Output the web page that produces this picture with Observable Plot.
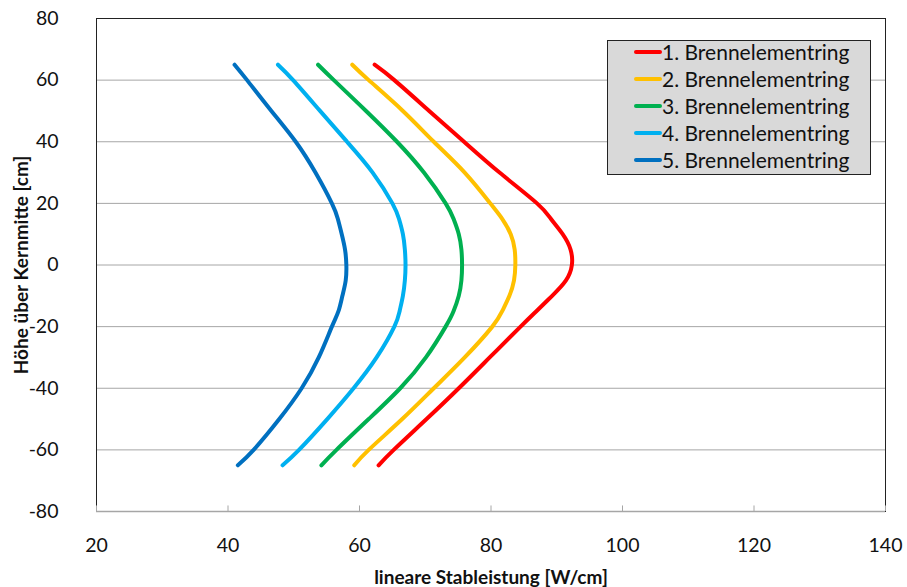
<!DOCTYPE html>
<html>
<head>
<meta charset="utf-8">
<script src="https://cdn.jsdelivr.net/npm/d3@7"></script>
<script src="https://cdn.jsdelivr.net/npm/@observablehq/plot@0.6"></script>
<style>
  html, body { margin: 0; padding: 0; background: #fff; }
  #chart { position: relative; width: 907px; height: 587px; font-family: Lato, "Open Sans", sans-serif; }
  #legend {
    position: absolute; left: 607px; top: 40px; width: 264px; height: 135px;
    background: #d9d9d9; border: 1px solid #222; box-sizing: border-box;
    padding: 0 0 0 25px; font-size: 21px; color: #111;
  }
  #legend .rows { position: relative; top: -3px; }
  #legend .row { height: 27px; display: flex; align-items: center; white-space: nowrap; }
  #legend svg { margin-right: 0; }
</style>
</head>
<body>
<div id="chart"></div>
<script>
// Height above core mid-plane [cm], bottom to top
const heights = [-65, -60, -50, -40, -30, -20, -15, -10, -5, 0, 5, 10, 15, 20, 30, 40, 50, 60, 65];

// Linear rod power [W/cm] per fuel element ring, at the heights above
const ring1 = [62.9, 65.2, 70.2, 75.1, 79.8, 84.5, 86.9, 89.3, 91.4, 92.3, 92.1, 90.9, 89.1, 87.0, 81.3, 75.9, 70.6, 65.3, 62.3];
const ring2 = [59.2, 61.4, 66.5, 71.3, 76.0, 80.2, 81.7, 82.8, 83.5, 83.7, 83.6, 83.0, 81.7, 79.9, 76.0, 71.3, 66.6, 61.4, 58.9];
const ring3 = [54.2, 56.5, 61.4, 66.2, 70.1, 73.1, 74.3, 75.1, 75.5, 75.6, 75.5, 75.1, 74.3, 73.1, 69.8, 65.7, 61.0, 56.1, 53.7];
const ring4 = [48.3, 50.8, 55.1, 59.1, 62.6, 65.3, 66.1, 66.6, 66.9, 67.0, 66.9, 66.6, 66.0, 65.0, 62.0, 58.1, 54.0, 49.9, 47.6];
const ring5 = [41.5, 43.9, 47.8, 51.2, 53.8, 55.8, 56.8, 57.4, 57.9, 58.0, 57.8, 57.3, 56.7, 55.8, 53.3, 50.3, 46.6, 42.9, 41.0];

const seriesNames = ["1. Brennelementring", "2. Brennelementring", "3. Brennelementring", "4. Brennelementring", "5. Brennelementring"];
const seriesValues = [ring1, ring2, ring3, ring4, ring5];
const seriesColors = ["#ff0000", "#ffc000", "#00b050", "#00b0f0", "#0070c0"];

const xTicks = [20, 40, 60, 80, 100, 120, 140];
const yTicks = [-80, -60, -40, -20, 0, 20, 40, 60, 80];

const rows = seriesNames.flatMap((name, i) =>
  heights.map((h, j) => ({ring: name, power: seriesValues[i][j], height: h}))
);

const font = "Lato, 'Open Sans', sans-serif";
const plain = d => String(d); // keep ASCII hyphen for negatives

const chart = Plot.plot({
  width: 907,
  height: 587,
  marginLeft: 96,
  marginRight: 22,
  marginTop: 18,
  marginBottom: 76,
  style: {fontFamily: font, fontSize: "18px", color: "#111", background: "#fff", overflow: "visible"},
  x: {domain: [20, 140]},
  y: {domain: [-80, 80]},
  color: {domain: seriesNames, range: seriesColors},
  marks: [
    Plot.ruleY(yTicks, {stroke: "#a6a6a6", strokeWidth: 1}),
    Plot.frame({stroke: "#222", strokeWidth: 1}),
    Plot.ruleY([-80], {stroke: "#a6a6a6", strokeWidth: 1.3}),
    Plot.ruleX(xTicks, {y1: -80, y2: -78.2, stroke: "#a6a6a6"}),
    Plot.axisY({
      ticks: yTicks, tickSize: 0, tickPadding: 38, fontSize: 19.5, tickFormat: plain,
      label: "Höhe über Kernmitte [cm]", labelAnchor: "center", labelArrow: "none", labelOffset: 82
    }),
    Plot.axisX({
      ticks: xTicks, tickSize: 0, tickPadding: 27, fontSize: 19.5, tickFormat: plain,
      label: "lineare Stableistung [W/cm]", labelAnchor: "center", labelArrow: "none", labelOffset: 72
    }),
    Plot.line(rows, {
      x: "power", y: "height", z: "ring", stroke: "ring",
      strokeWidth: 4, strokeLinecap: "round", strokeLinejoin: "round", curve: "natural"
    })
  ]
});

// Bold axis titles
chart.querySelectorAll("[aria-label='x-axis label'] text, [aria-label='y-axis label'] text").forEach(t => {
  t.setAttribute("font-weight", "bold");
  t.setAttribute("font-size", "19px");
});

const container = document.getElementById("chart");
container.appendChild(chart);

// Legend box inside the plot area
const legend = document.createElement("div");
legend.id = "legend";
const list = document.createElement("div");
list.className = "rows";
seriesNames.forEach((name, i) => {
  const row = document.createElement("div");
  row.className = "row";
  row.innerHTML = `<svg width="29" height="8"><line x1="3" y1="4" x2="27" y2="4" stroke="${seriesColors[i]}" stroke-width="4" stroke-linecap="round"/></svg><span>${name}</span>`;
  list.appendChild(row);
});
legend.appendChild(list);
container.appendChild(legend);
</script>
</body>
</html>
